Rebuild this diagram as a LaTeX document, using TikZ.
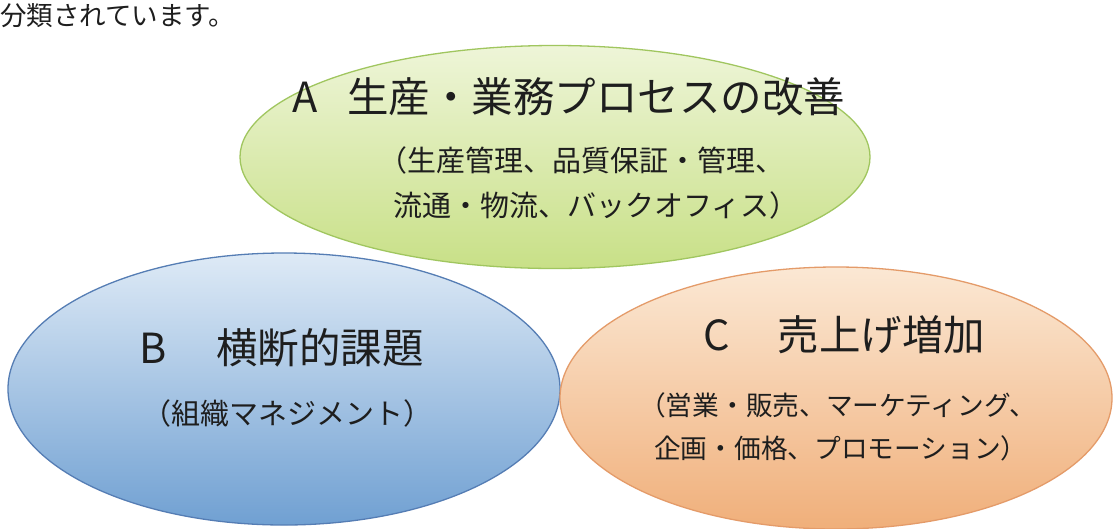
\documentclass[tikz,border=0pt]{standalone}
\usepackage{fontspec}
\setmainfont{Noto Sans CJK JP}
\usetikzlibrary{shapes.geometric}
\definecolor{gline}{RGB}{160,198,95}
\definecolor{gtop}{RGB}{238,245,216}
\definecolor{gbot}{RGB}{200,224,135}
\definecolor{bline}{RGB}{85,125,180}
\definecolor{btop}{RGB}{222,234,246}
\definecolor{bbot}{RGB}{112,160,210}
\definecolor{oline}{RGB}{228,155,105}
\definecolor{otop}{RGB}{251,232,212}
\definecolor{obot}{RGB}{240,175,122}
\definecolor{txt}{RGB}{30,30,30}
\begin{document}
\begin{tikzpicture}[x=1pt,y=-1pt,
  bubble/.style={ellipse,inner sep=0pt,line width=1.3pt},
  ttl/.style={font=\fontsize{41.5}{48}\selectfont,inner sep=0pt,anchor=west,text=txt},
  subA/.style={font=\fontsize{29}{34}\selectfont,inner sep=0pt,anchor=west,text=txt},
  subC/.style={font=\fontsize{26.7}{32}\selectfont,inner sep=0pt,anchor=west,text=txt}]
\useasboundingbox (0,0) rectangle (1115,528);
\clip (0,0) rectangle (1115,528);
\fill[white] (0,0) rectangle (1115,528);
\node[font=\fontsize{26.5}{32}\selectfont,inner sep=0pt,anchor=west,text=txt] (intro) at (0,16) {分類されています。};
% ellipses
\node[bubble,minimum width=630pt,minimum height=223pt,draw=gline,top color=gtop,bottom color=gbot] (A) at (555,157) {};
\node[bubble,minimum width=552pt,minimum height=272pt,draw=bline,top color=btop,bottom color=bbot] (B) at (284,389) {};
\node[bubble,minimum width=552pt,minimum height=262pt,draw=oline,top color=otop,bottom color=obot] (C) at (836,398) {};
% texts A
\node[ttl] (At) at (292,97) {A\hspace{30pt}生産・業務プロセスの改善};
\node[subA] (As1) at (378,160) {（生産管理、品質保証・管理、};
\node[subA] (As2) at (393,205) {流通・物流、バックオフィス）};
% texts B
\node[ttl] (Bt) at (139,348) {B\hspace{50pt}横断的課題};
\node[subA] (Bs) at (142,413) {（組織マネジメント）};
% texts C
\node[ttl] (Ct) at (703,335) {C\hspace{48pt}売上げ増加};
\node[subC] (Cs1) at (639,405) {（営業・販売、マーケティング、};
\node[subC] (Cs2) at (654,448) {企画・価格、プロモーション）};
\end{tikzpicture}
\end{document}
